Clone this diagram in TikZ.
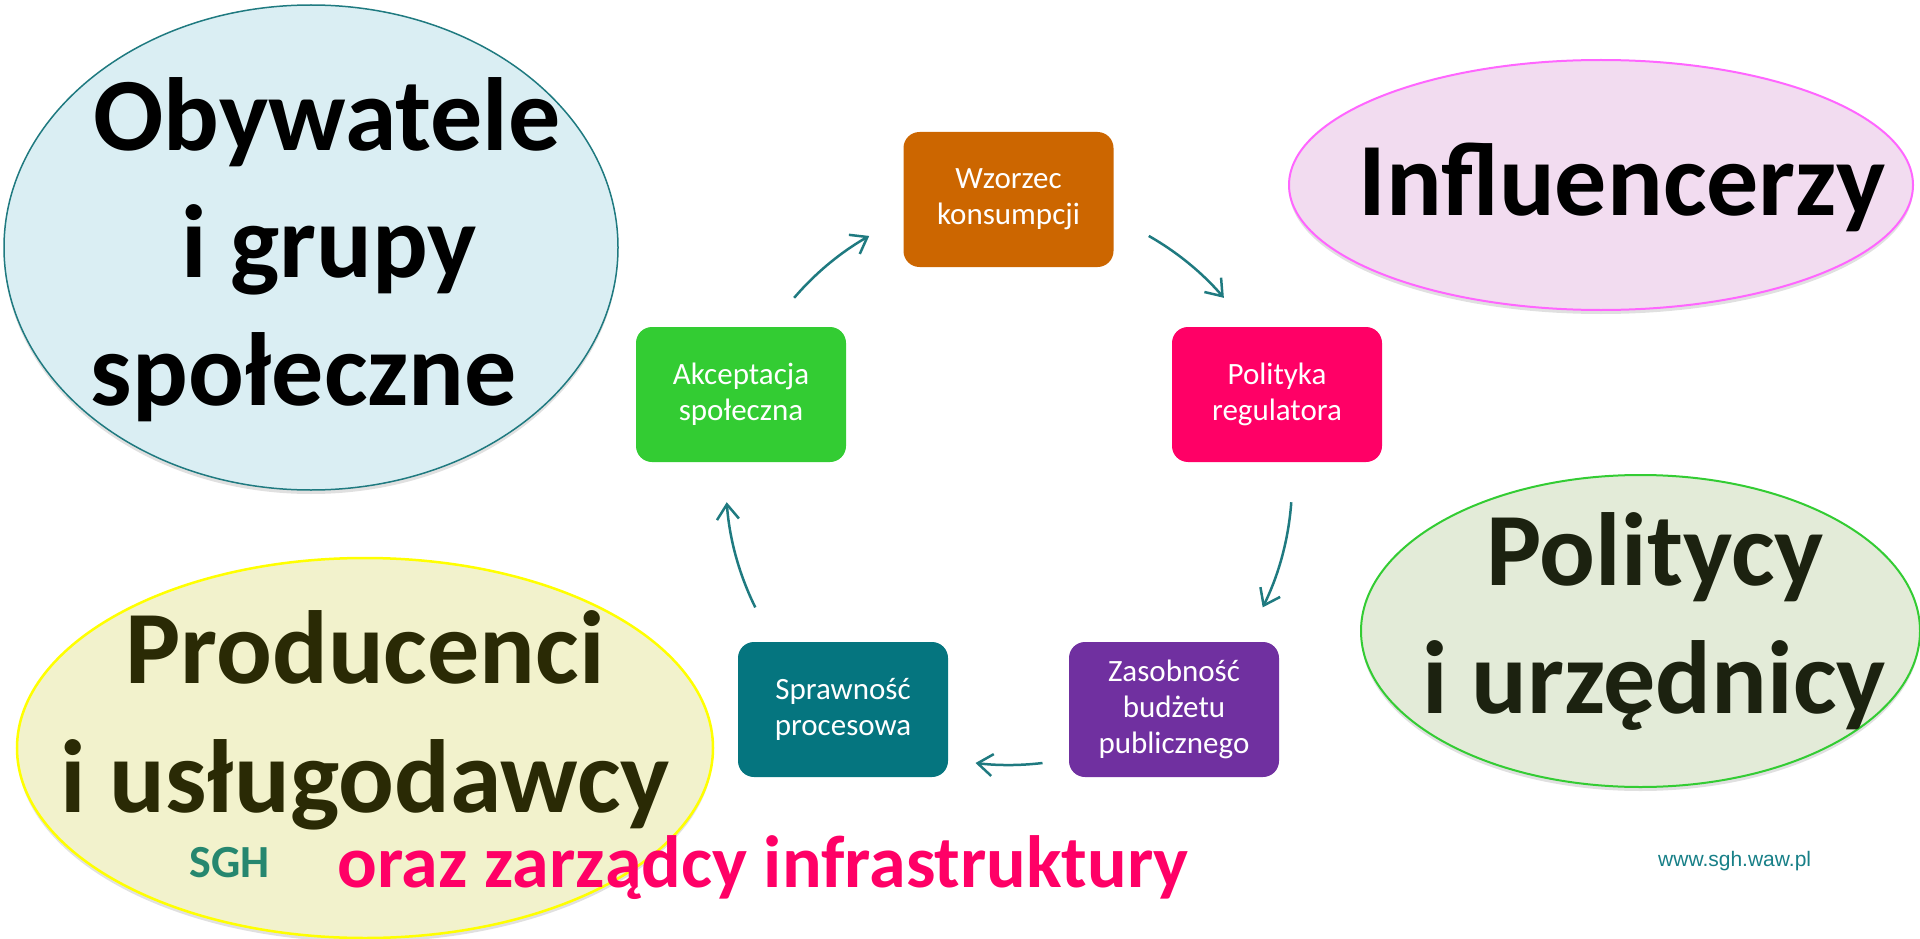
\documentclass[tikz,border=0pt]{standalone}
\usepackage{fontspec}
\setmainfont{Carlito}
\newfontfamily\webfont{Liberation Sans}
\usetikzlibrary{shapes.geometric,arrows.meta,shadows}

\definecolor{cycleteal}{HTML}{1F7A80}
\definecolor{obyfill}{HTML}{DAEEF3}
\definecolor{inffill}{HTML}{F2DCF0}
\definecolor{infline}{HTML}{FF66FF}
\definecolor{polfill}{HTML}{E3EBD8}
\definecolor{polline}{HTML}{33CC33}
\definecolor{polink}{HTML}{1C2210}
\definecolor{profill}{HTML}{F2F2CC}
\definecolor{proline}{HTML}{FFFF00}
\definecolor{proink}{HTML}{2A2A05}
\definecolor{boxorange}{HTML}{CC6600}
\definecolor{boxpink}{HTML}{FF0066}
\definecolor{boxgreen}{HTML}{33CC33}
\definecolor{boxteal}{HTML}{05757F}
\definecolor{boxpurple}{HTML}{7030A0}
\definecolor{sghgreen}{HTML}{26876F}
\definecolor{webteal}{HTML}{177F87}

\begin{document}
\begin{tikzpicture}[x=1pt,y=-1pt,
  blob/.style={ellipse, inner sep=0pt, line width=2pt,
    drop shadow={shadow xshift=0pt, shadow yshift=-4pt, opacity=0.2, fill=black!60}},
  big/.style={font=\fontsize{104}{120}\selectfont\bfseries, inner sep=0pt, anchor=base},
  stepbox/.style={rectangle, rounded corners=16pt, minimum width=210pt,
    minimum height=135pt, inner sep=0pt, text=white, align=center,
    font=\fontsize{31}{36}\selectfont},
  flow/.style={draw=cycleteal, line width=2.5pt,
    -{Straight Barb[length=15pt,width=22pt]}}
]
\useasboundingbox (0,0) rectangle (1920,939);

% actor groups
\node[blob, draw=cycleteal, line width=1.5pt, fill=obyfill,
  minimum width=614pt, minimum height=485pt] (oby) at (311,247.5) {};
\node[blob, draw=infline, fill=inffill,
  minimum width=624pt, minimum height=250pt] (inf) at (1601,185) {};
\node[blob, draw=polline, fill=polfill,
  minimum width=559pt, minimum height=312pt] (pol) at (1640.5,631) {};
\node[blob, draw=proline, line width=2.5pt, fill=profill,
  minimum width=696pt, minimum height=380pt] (pro) at (365,748) {};

\node[big] (oby1) at (327,150) {Obywatele};
\node[big] (oby2) at (329,277) {i grupy};
\node[big] (oby3) at (304,405) {społeczne};
\node[big] (inf1) at (1622,215) {Influencerzy};
\node[big, text=polink] (pol1) at (1655,585) {Politycy};
\node[big, text=polink] (pol2) at (1654,713) {i urzędnicy};
\node[big, text=proink] (pro1) at (365,683) {Producenci};
\node[big, text=proink] (pro2) at (365,812) {i usługodawcy};

% decision cycle
\node[stepbox, fill=boxorange] (wzo) at (1008.5,199.5) {Wzorzec\\konsumpcji};
\node[stepbox, fill=boxpink] (reg) at (1277,394.5) {Polityka\\regulatora};
\node[stepbox, fill=boxpurple] (bud) at (1174,709.5) {Zasobność\\budżetu\\publicznego};
\node[stepbox, fill=boxteal] (spr) at (843,709.5) {Sprawność\\procesowa};
\node[stepbox, fill=boxgreen] (akc) at (741,394.5) {Akceptacja\\społeczna};

\coordinate (cyc) at (1009,482);
\path (cyc) ++(-139.4:283) coordinate (a1);
\path (cyc) ++(-60.4:283) coordinate (a2);
\path (cyc) ++(4.1:283) coordinate (a3);
\path (cyc) ++(83.2:283) coordinate (a4);
\path (cyc) ++(153.7:283) coordinate (a5);
\draw[flow] (a1) arc[start angle=-139.4, end angle=-119.6, radius=283];
\draw[flow] (a2) arc[start angle=-60.4, end angle=-40.6, radius=283];
\draw[flow] (a3) arc[start angle=4.1, end angle=26.3, radius=283];
\draw[flow] (a4) arc[start angle=83.2, end angle=96.8, radius=283];
\draw[flow] (a5) arc[start angle=153.7, end angle=175.9, radius=283];

% footer
\node[font=\fontsize{46}{50}\selectfont\bfseries, text=sghgreen, inner sep=0pt,
  anchor=base] (sgh) at (229.5,877) {SGH};
\node[font=\fontsize{74}{80}\selectfont\bfseries, text=boxpink, inner sep=0pt,
  anchor=base west] (ozi) at (337,887) {oraz zarządcy infrastruktury};
\node[font=\webfont\fontsize{21}{24}\selectfont, text=webteal, inner sep=0pt,
  anchor=base west] (www) at (1658,866) {www.sgh.waw.pl};
\end{tikzpicture}
\end{document}
